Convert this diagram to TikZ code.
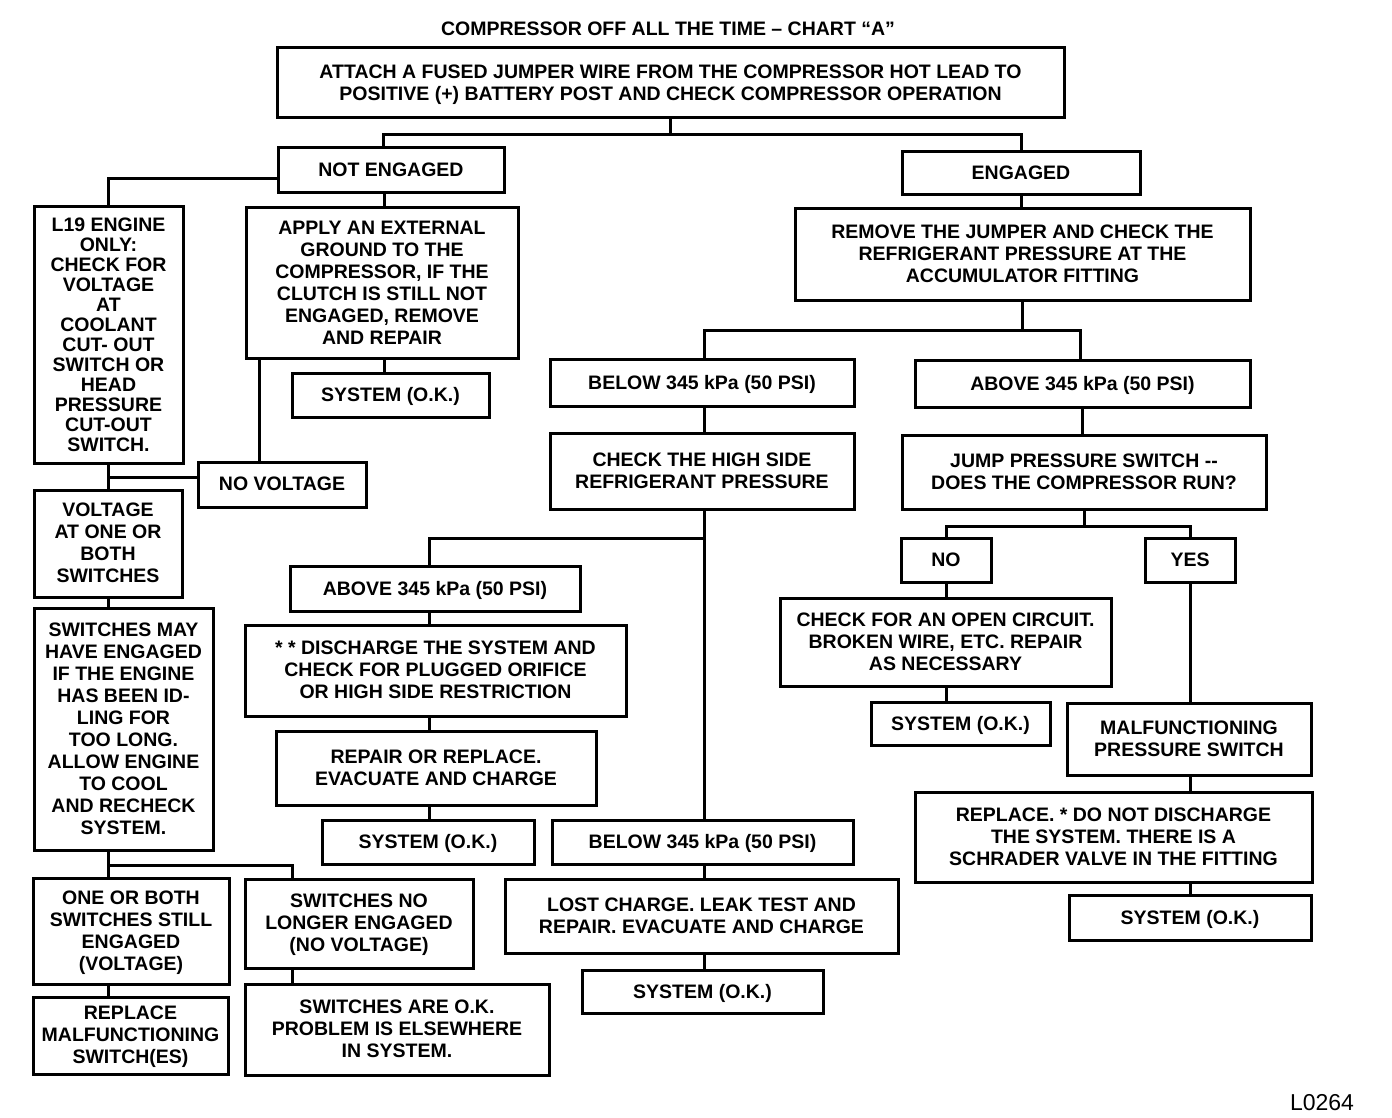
\documentclass[tikz,border=0pt]{standalone}
\usepackage{fontspec}
\setmainfont{Liberation Sans}
\usetikzlibrary{positioning}
\tikzset{
 box/.style={draw, line width=3pt, align=center, inner sep=0pt, text depth=1pt,
  font=\bfseries\fontsize{19.5}{22}\selectfont},
 tightbox/.style={box, font=\bfseries\fontsize{19.5}{20}\selectfont},
 link/.style={line width=3pt}
}

\begin{document}
\begin{tikzpicture}[x=1pt,y=-1pt]
\useasboundingbox[fill=white] (0,0) rectangle (1392,1118);

\node[font=\bfseries\fontsize{19.5}{20}\selectfont] (title) at (668,29) {COMPRESSOR OFF ALL THE TIME -- CHART ``A''};
\node[box, minimum width=787pt, minimum height=70pt] (attach) at (670.5,83) {ATTACH A FUSED JUMPER WIRE FROM THE COMPRESSOR HOT LEAD TO\\POSITIVE (+) BATTERY POST AND CHECK COMPRESSOR OPERATION};

\node[box, minimum width=226pt, minimum height=45pt] (noteng) at (391,170.5) {NOT ENGAGED};
\node[box, minimum width=238pt, minimum height=43pt] (eng) at (1021,173.5) {ENGAGED};

\node[tightbox, minimum width=149pt, minimum height=256pt] (lnineteen) at (108.5,335) {L19 ENGINE\\ONLY:\\CHECK FOR\\VOLTAGE\\AT\\COOLANT\\CUT- OUT\\SWITCH OR\\HEAD\\PRESSURE\\CUT-OUT\\SWITCH.};
\node[box, minimum width=272pt, minimum height=150pt] (apply) at (382,283) {APPLY AN EXTERNAL\\GROUND TO THE\\COMPRESSOR, IF THE\\CLUTCH IS STILL NOT\\ENGAGED, REMOVE\\AND REPAIR};
\node[box, minimum width=197pt, minimum height=44pt] (sysa) at (390.5,395) {SYSTEM (O.K.)};
\node[box, minimum width=168pt, minimum height=45pt] (novolt) at (282,484.5) {NO VOLTAGE};
\node[box, minimum width=148pt, minimum height=107pt] (voltage) at (108,543.5) {VOLTAGE\\AT ONE OR\\BOTH\\SWITCHES};
\node[box, minimum width=179pt, minimum height=242pt] (idling) at (123.5,729) {SWITCHES MAY\\HAVE ENGAGED\\IF THE ENGINE\\HAS BEEN ID-\\LING FOR\\TOO LONG.\\ALLOW ENGINE\\TO COOL\\AND RECHECK\\SYSTEM.};
\node[box, minimum width=196pt, minimum height=106pt] (stillon) at (131,931) {ONE OR BOTH\\SWITCHES STILL\\ENGAGED\\(VOLTAGE)};
\node[box, minimum width=195pt, minimum height=77pt] (replsw) at (130.5,1035.5) {REPLACE\\MALFUNCTIONING\\SWITCH(ES)};
\node[box, minimum width=228pt, minimum height=89pt] (nolonger) at (359,923.5) {SWITCHES NO\\LONGER ENGAGED\\(NO VOLTAGE)};
\node[box, minimum width=304pt, minimum height=91pt] (swok) at (397,1029.5) {SWITCHES ARE O.K.\\PROBLEM IS ELSEWHERE\\IN SYSTEM.};

\node[box, minimum width=455pt, minimum height=91pt] (remove) at (1022.5,254.5) {REMOVE THE JUMPER AND CHECK THE\\REFRIGERANT PRESSURE AT THE\\ACCUMULATOR FITTING};
\node[box, minimum width=304pt, minimum height=47pt] (belowa) at (702,382.5) {BELOW 345 kPa (50 PSI)};
\node[box, minimum width=335pt, minimum height=47pt] (abovea) at (1082.5,383.5) {ABOVE 345 kPa (50 PSI)};
\node[box, minimum width=304pt, minimum height=76pt] (highside) at (702,471) {CHECK THE HIGH SIDE\\REFRIGERANT PRESSURE};
\node[box, minimum width=290pt, minimum height=45pt] (aboveb) at (435,588.5) {ABOVE 345 kPa (50 PSI)};
\node[box, minimum width=381pt, minimum height=91pt] (discharge) at (435.5,670.5) {* * DISCHARGE THE SYSTEM AND\\CHECK FOR PLUGGED ORIFICE\\OR HIGH SIDE RESTRICTION};
\node[box, minimum width=320pt, minimum height=74pt] (repair) at (436,768) {REPAIR OR REPLACE.\\EVACUATE AND CHARGE};
\node[box, minimum width=212pt, minimum height=44pt] (sysb) at (428,842) {SYSTEM (O.K.)};
\node[box, minimum width=301pt, minimum height=44pt] (belowb) at (702.5,842) {BELOW 345 kPa (50 PSI)};
\node[box, minimum width=393pt, minimum height=74pt] (lost) at (701.5,916) {LOST CHARGE. LEAK TEST AND\\REPAIR. EVACUATE AND CHARGE};
\node[box, minimum width=241pt, minimum height=43pt] (sysc) at (702.5,991.5) {SYSTEM (O.K.)};

\node[box, minimum width=364pt, minimum height=74pt] (jump) at (1084,472) {JUMP PRESSURE SWITCH -{}-\\DOES THE COMPRESSOR RUN?};
\node[box, minimum width=90pt, minimum height=44pt] (no) at (946,560) {NO};
\node[box, minimum width=90pt, minimum height=44pt] (yes) at (1190,560) {YES};
\node[box, minimum width=331pt, minimum height=88pt] (opencirc) at (945.5,642) {CHECK FOR AN OPEN CIRCUIT.\\BROKEN WIRE, ETC. REPAIR\\AS NECESSARY};
\node[box, minimum width=179pt, minimum height=43pt] (sysd) at (960.5,723.5) {SYSTEM (O.K.)};
\node[box, minimum width=244pt, minimum height=72pt] (malf) at (1189,739) {MALFUNCTIONING\\PRESSURE SWITCH};
\node[box, minimum width=397pt, minimum height=90pt] (replace) at (1113.5,837) {REPLACE. * DO NOT DISCHARGE\\THE SYSTEM. THERE IS A\\SCHRADER VALVE IN THE FITTING};
\node[box, minimum width=242pt, minimum height=45pt] (syse) at (1190,917.5) {SYSTEM (O.K.)};

\node[font=\fontsize{23}{24}\selectfont] (code) at (1322,1103) {L0264};

\coordinate (cola) at ([xshift=-7pt]noteng.south);
\coordinate (colb) at ([xshift=-6pt]aboveb.south);
\coordinate (colc) at ([xshift=2pt]belowa.south);

\draw[link] (attach.south) -- ++(0,15) coordinate (split1);
\draw[link] ([xshift=-8pt]noteng.north) |- (split1) -| (eng.north);
\draw[link] ([yshift=-8.5pt]noteng.west) -| (lnineteen.north);
\draw[link] (cola) -- (cola |- apply.north);
\draw[link] (cola |- apply.south) -- (cola |- sysa.north);
\draw[link] ([xshift=15pt]apply.south west) -- ([xshift=15pt]apply.south west |- novolt.north);
\draw[link] (lnineteen.south) -- (lnineteen.south |- voltage.north);
\draw[link] ([yshift=7.5pt]novolt.west) -- ([yshift=7.5pt]novolt.west -| lnineteen.south);
\draw[link] (voltage.south) -- (voltage.south |- idling.north);
\draw[link] (voltage.south |- idling.south) -- ++(0,14) coordinate (split2) -- (split2 |- stillon.north);
\draw[link] (split2) -| ([xshift=-67pt]nolonger.north);
\draw[link] (split2 |- stillon.south) -- (split2 |- replsw.north);
\draw[link] ([xshift=-67pt]nolonger.south) -- ([xshift=-67pt]nolonger.south |- swok.north);

\draw[link] (eng.south) -- (eng.south |- remove.north);
\draw[link] (remove.south) -- ++(0,29) coordinate (split3);
\draw[link] ([xshift=2pt]belowa.north) |- (split3) -| ([xshift=-2.5pt]abovea.north);
\draw[link] (colc) -- (colc |- highside.north);
\draw[link] (colc |- highside.south) -- (colc |- belowb.north);
\path (colc |- highside.south) ++(0,28) coordinate (split4);
\draw[link] (split4) -| ([xshift=-6pt]aboveb.north);
\draw[link] (colb) -- (colb |- discharge.north);
\draw[link] (colb |- discharge.south) -- (colb |- repair.north);
\draw[link] (colb |- repair.south) -- (colb |- sysb.north);
\draw[link] (colc |- belowb.south) -- (colc |- lost.north);
\draw[link] (colc |- lost.south) -- (colc |- sysc.north);

\draw[link] (abovea.south) -- (abovea.south |- jump.north);
\draw[link] (jump.south) -- ++(0,16) coordinate (split5);
\draw[link] (no.north) |- (split5) -| (yes.north);
\draw[link] (no.south) -- (no.south |- opencirc.north);
\draw[link] (no.south |- opencirc.south) -- (no.south |- sysd.north);
\draw[link] (yes.south) -- (yes.south |- malf.north);
\draw[link] (yes.south |- malf.south) -- (yes.south |- replace.north);
\draw[link] (yes.south |- replace.south) -- (yes.south |- syse.north);
\end{tikzpicture}
\end{document}
